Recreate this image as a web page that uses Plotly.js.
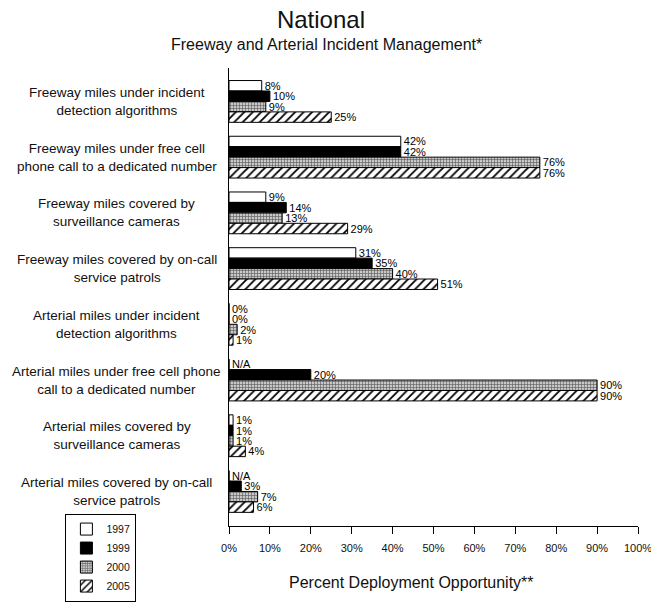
<!DOCTYPE html>
<html>
<head>
<meta charset="utf-8">
<script src="https://cdn.plot.ly/plotly-3.0.1.min.js"></script>
<style>html,body{margin:0;padding:0;background:#fff;}#chart{width:651px;height:615px;}</style>
</head>
<body>
<div id="chart"></div>
<script>
const categories = [
  "Freeway miles under incident<br>detection algorithms",
  "Freeway miles under free cell<br>phone call to a dedicated number",
  "Freeway miles covered by<br>surveillance cameras",
  "Freeway miles covered by on-call<br>service patrols",
  "Arterial miles under incident<br>detection algorithms",
  "Arterial miles under free cell phone<br>call to a dedicated number",
  "Arterial miles covered by<br>surveillance cameras",
  "Arterial miles covered by on-call<br>service patrols"
];
const years = ["1997", "1999", "2000", "2005"];
const v1997 = [8, 42, 9, 31, 0, null, 1, null];
const v1999 = [10, 42, 14, 35, 0, 20, 1, 3];
const v2000 = [9, 76, 13, 40, 2, 90, 1, 7];
const v2005 = [25, 76, 29, 51, 1, 90, 4, 6];
const tickVals = [0, 10, 20, 30, 40, 50, 60, 70, 80, 90, 100];

const FONT = "Liberation Sans, Arial, sans-serif";
const series = [v1997, v1999, v2000, v2005];
const styles = [
  {color: "#ffffff", pattern: {shape: ""}},
  {color: "#000000", pattern: {shape: ""}},
  {color: "#bdbdbd", pattern: {shape: "+", fgcolor: "#555555", bgcolor: "#c8c8c8", size: 3, solidity: 0.35}},
  {color: "#ffffff", pattern: {shape: "/", fgcolor: "#000000", bgcolor: "#ffffff", size: 6, solidity: 0.3}}
];
const idx = categories.map((c, i) => i);

const traces = series.map((vals, k) => ({
  type: "bar",
  orientation: "h",
  name: years[k],
  y: idx,
  x: vals.map(v => v === null ? 0 : v),
  text: vals.map(v => v === null ? "N/A" : v + "%"),
  textposition: "outside",
  constraintext: "none",
  cliponaxis: false,
  textfont: {family: FONT, size: 11, color: "#000"},
  marker: {color: styles[k].color, pattern: styles[k].pattern, line: {color: "#000", width: 1}},
  hoverinfo: "none"
}));

const annotations = categories.map((c, i) => ({
  xref: "paper", yref: "y", x: -0.274, y: i,
  text: c, showarrow: false, xanchor: "center", yanchor: "middle", align: "center",
  font: {family: FONT, size: 13.5, color: "#111"}
}));
annotations.push({
  xref: "paper", yref: "paper", x: 0.238, y: 1.052, xanchor: "center", yanchor: "middle",
  text: "Freeway and Arterial Incident Management*", showarrow: false,
  font: {family: FONT, size: 16, color: "#111"}
});
annotations.push({
  xref: "paper", yref: "paper", x: 0.447, y: -0.10, xanchor: "center", yanchor: "top",
  text: "Percent Deployment Opportunity**", showarrow: false,
  font: {family: FONT, size: 16, color: "#111"}
});

const layout = {
  width: 651, height: 615,
  margin: {l: 229, r: 13, t: 68, b: 89},
  paper_bgcolor: "#fff", plot_bgcolor: "#fff",
  font: {family: FONT, color: "#111"},
  title: {text: "National", x: 0.493, xref: "container", y: 0.968, yanchor: "middle",
          font: {family: FONT, size: 24, color: "#111"}},
  barmode: "group", bargap: 0.25, bargroupgap: 0,
  showlegend: true,
  legend: {traceorder: "normal", x: -0.4, xanchor: "left", y: -0.165, yanchor: "bottom",
           bordercolor: "#000", borderwidth: 1, font: {family: FONT, size: 10.5, color: "#111"},
           itemwidth: 30, tracegroupgap: 0, bgcolor: "#fff"},
  xaxis: {range: [0, 100.001], tickvals: tickVals, ticktext: tickVals.map(t => t + "%"),
          showline: true, linecolor: "#000", linewidth: 1, ticks: "outside", ticklen: 7,
          tickcolor: "#000", showgrid: false, zeroline: false, ticklabeloverflow: "allow",
          automargin: false, ticklabelstandoff: 5,
          tickfont: {family: FONT, size: 11, color: "#111"}},
  yaxis: {range: [7.62, -0.6], showticklabels: false, showline: true, linecolor: "#000",
          linewidth: 1, ticks: "", showgrid: false, zeroline: false},
  annotations: annotations
};

Plotly.newPlot("chart", traces, layout, {displayModeBar: false, staticPlot: true});
</script>
</body>
</html>
